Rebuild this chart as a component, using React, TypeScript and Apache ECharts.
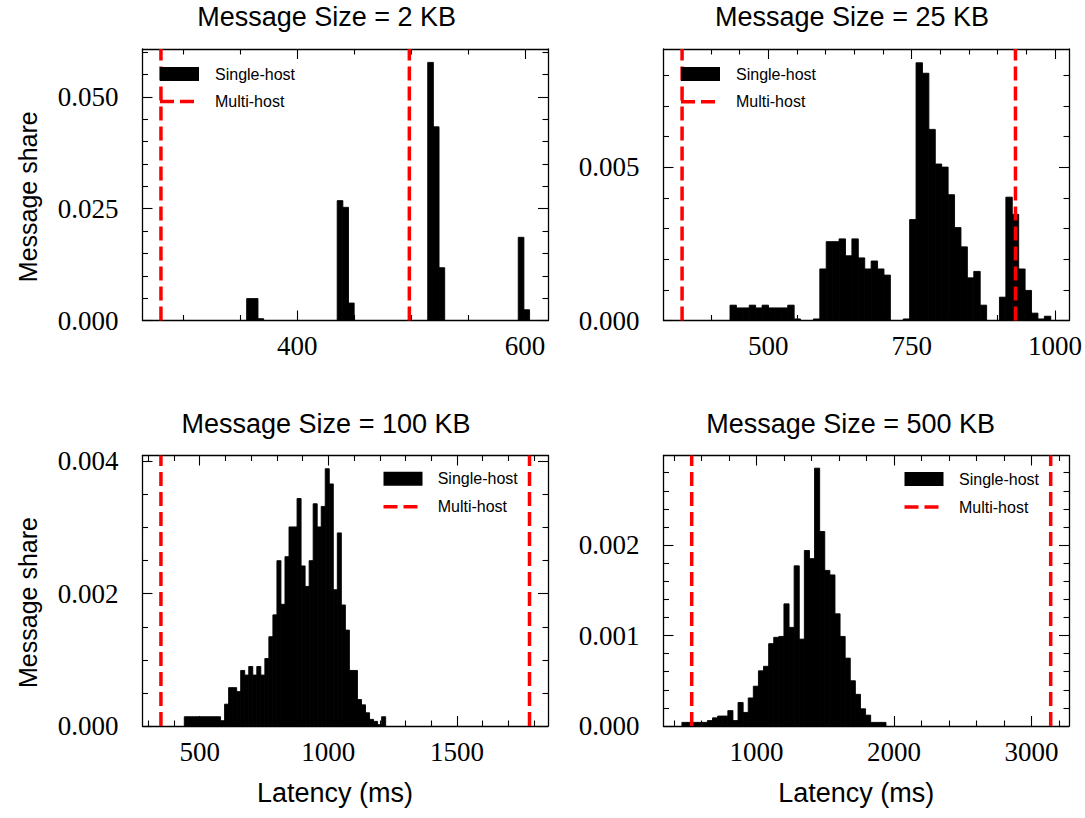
import React, { useEffect, useRef } from "react";
import * as echarts from "echarts";

// ---------- texts ----------
const titles = [
  "Message Size = 2 KB",
  "Message Size = 25 KB",
  "Message Size = 100 KB",
  "Message Size = 500 KB",
];
const seriesNames = ["Single-host", "Multi-host"];
const xAxisTitle = "Latency (ms)";
const yAxisTitle = "Message share";

// ---------- 2 KB ----------
const binStart2KB = 355.5;
const binWidth2KB = 4.97;
const share2KB = [
  0.0049, 0.0049, 0.0004, 0, 0, 0, 0, 0, 0, 0,
  0, 0, 0, 0, 0, 0, 0.0268, 0.0253, 0.0039, 0,
  0, 0, 0, 0, 0, 0, 0, 0, 0, 0,
  0, 0, 0.0577, 0.0433, 0.0118, 0, 0, 0, 0, 0,
  0, 0, 0, 0, 0, 0, 0, 0, 0.0186, 0.0024,
];
const multiHost2KB = [280.2, 498.4];
const xMajor2KB = [400, 600];
const xMinor2KB = [300, 350, 450, 500, 550];
const yMajor2KB = [0, 0.025, 0.05];
const yMinor2KB = [0.005, 0.01, 0.015, 0.02, 0.03, 0.035, 0.04, 0.045, 0.055, 0.06];

// ---------- 25 KB ----------
const binStart25KB = 433.1;
const binWidth25KB = 11.19;
const share25KB = [
  0.0005, 0.00041, 0.00041, 0.0005, 0.00041, 0.0005, 0.00041, 0.00041, 0.00041, 0.0005,
  0.00005, 0, 0, 0.00005, 0.00168, 0.00257, 0.00257, 0.00266, 0.00211, 0.00266,
  0.00204, 0.00168, 0.00194, 0.00168, 0.00148, 0, 0, 0.00005, 0.00329, 0.0084,
  0.00806, 0.00623, 0.0051, 0.005, 0.0041, 0.00303, 0.0024, 0.00139, 0.0016, 0.0005,
  0, 0, 0.00076, 0.00402, 0.00346, 0.00168, 0.00098, 0.00024, 0.00005, 0.00014,
];
const multiHost25KB = [349.5, 931];
const xMajor25KB = [500, 750, 1000];
const xMinor25KB = [350, 400, 450, 550, 600, 650, 700, 800, 850, 900, 950];
const yMajor25KB = [0, 0.005];
const yMinor25KB = [0.001, 0.002, 0.003, 0.004, 0.006, 0.007, 0.008];

// ---------- 100 KB ----------
const binStart100KB = 440.4;
const binWidth100KB = 15.65;
const share100KB = [
  0.00014, 0.00014, 0.00014, 0.00014, 0.00014, 0.00014, 0.00014, 0.00014, 0.00014, 0.00008,
  0.00033, 0.00058, 0.00058, 0.00052, 0.00084, 0.00077, 0.0009, 0.00077, 0.0009, 0.00077,
  0.00102, 0.00135, 0.00168, 0.0025, 0.00184, 0.00256, 0.00301, 0.00301, 0.00344, 0.00242,
  0.00211, 0.0025, 0.00336, 0.00301, 0.00332, 0.00389, 0.00366, 0.00206, 0.00292, 0.00183,
  0.00145, 0.00084, 0.00084, 0.0004, 0.00032, 0.0002, 0.0001, 0.00007, 0.00002, 0.00014,
];
const multiHost100KB = [349.5, 1782];
const xMajor100KB = [500, 1000, 1500];
const xMinor100KB = [300, 400, 600, 700, 800, 900, 1100, 1200, 1300, 1400, 1600, 1700, 1800];
const yMajor100KB = [0, 0.002, 0.004];
const yMinor100KB = [0.0005, 0.001, 0.0015, 0.0025, 0.003, 0.0035];

// ---------- 500 KB ----------
const binStart500KB = 457.6;
const binWidth500KB = 37.1;
const share500KB = [
  0.00004, 0.00004, 0.00004, 0.00004, 0.00004, 0.00006, 0.00009, 0.00011, 0.00011, 0.00017,
  0.00006, 0.00026, 0.00015, 0.00031, 0.00044, 0.00061, 0.00066, 0.00091, 0.00098, 0.00099,
  0.00135, 0.00109, 0.00177, 0.00096, 0.00194, 0.00185, 0.00285, 0.00215, 0.00172, 0.00167,
  0.00124, 0.00099, 0.00075, 0.0005, 0.00035, 0.00019, 0.00012, 0.00004, 0.00004, 0.00004,
];
const multiHost500KB = [528.7, 3139.6];
const xMajor500KB = [1000, 2000, 3000];
const xMinor500KB = [400, 600, 800, 1200, 1400, 1600, 1800, 2200, 2400, 2600, 2800, 3200];
const yMajor500KB = [0, 0.001, 0.002];
const yMinor500KB = [
  0.0002, 0.0004, 0.0006, 0.0008, 0.0012, 0.0014, 0.0016, 0.0018,
  0.0022, 0.0024, 0.0026, 0.0028,
];

// ---------- assembly ----------
const panels = [
  { start: binStart2KB, width: binWidth2KB, share: share2KB, multi: multiHost2KB, xMajor: xMajor2KB, xMinor: xMinor2KB, yMajor: yMajor2KB, yMinor: yMinor2KB },
  { start: binStart25KB, width: binWidth25KB, share: share25KB, multi: multiHost25KB, xMajor: xMajor25KB, xMinor: xMinor25KB, yMajor: yMajor25KB, yMinor: yMinor25KB },
  { start: binStart100KB, width: binWidth100KB, share: share100KB, multi: multiHost100KB, xMajor: xMajor100KB, xMinor: xMinor100KB, yMajor: yMajor100KB, yMinor: yMinor100KB },
  { start: binStart500KB, width: binWidth500KB, share: share500KB, multi: multiHost500KB, xMajor: xMajor500KB, xMinor: xMinor500KB, yMajor: yMajor500KB, yMinor: yMinor500KB },
];

const layouts = [
  { left: 142.5, top: 49, width: 405.5, height: 271.5, xMin: 264, xMax: 620.2, yMax: 0.0607, titleX: 326.6, titleTop: 3, legX: 160, legTextX: 215, legY1: 74, legY2: 101.5 },
  { left: 663.5, top: 49, width: 405.5, height: 271.5, xMin: 317.1, xMax: 1024.4, yMax: 0.00885, titleX: 852, titleTop: 3, legX: 681, legTextX: 736, legY1: 74, legY2: 101.7 },
  { left: 142.5, top: 455.5, width: 405.5, height: 270.5, xMin: 277.9, xMax: 1853.9, yMax: 0.00409, titleX: 326, titleTop: 410, legX: 383.5, legTextX: 437.7, legY1: 478.7, legY2: 506.7 },
  { left: 663.5, top: 455.5, width: 405.5, height: 270.5, xMin: 323.6, xMax: 3272.7, yMax: 0.00299, titleX: 850.6, titleTop: 410, legX: 904.5, legTextX: 959, legY1: 479, legY2: 507 },
];

const FONT_SERIF = '"Liberation Serif", "Times New Roman", serif';
const FONT_SANS = '"Liberation Sans", Arial, sans-serif';
const RED = "#ff0000";
const DASH = [14, 6];

function buildOption() {
  const grid: any[] = [];
  const xAxis: any[] = [];
  const yAxis: any[] = [];
  const series: any[] = [];
  const title: any[] = [];
  const graphic: any[] = [];

  const frameLine = { color: "#000", width: 1.3 };
  const tickLine = { color: "#000", width: 1.1 };
  const MAJOR = 10;
  const MINOR = 5.5;

  panels.forEach((p, gi) => {
    const L = layouts[gi];
    grid.push({ left: L.left, top: L.top, width: L.width, height: L.height, containLabel: false, outerBoundsMode: "none" });

    const xb = { type: "value", gridIndex: gi, min: L.xMin, max: L.xMax, splitLine: { show: false }, axisPointer: { show: false } };
    xAxis.push(
      {
        ...xb, position: "bottom",
        axisLine: { show: true, onZero: false, lineStyle: frameLine },
        axisTick: { show: true, inside: true, length: MAJOR, customValues: p.xMajor, lineStyle: tickLine },
        axisLabel: { show: true, customValues: p.xMajor, margin: 12, fontFamily: FONT_SERIF, fontSize: 27, color: "#000", formatter: (v: number) => String(Math.round(v)) },
      },
      {
        ...xb, position: "bottom",
        axisLine: { show: false, onZero: false },
        axisTick: { show: true, inside: true, length: MINOR, customValues: p.xMinor, lineStyle: tickLine },
        axisLabel: { show: false },
      },
      {
        ...xb, position: "top",
        axisLine: { show: true, onZero: false, lineStyle: frameLine },
        axisTick: { show: true, inside: true, length: MAJOR, customValues: p.xMajor, lineStyle: tickLine },
        axisLabel: { show: false },
      },
      {
        ...xb, position: "top",
        axisLine: { show: false, onZero: false },
        axisTick: { show: true, inside: true, length: MINOR, customValues: p.xMinor, lineStyle: tickLine },
        axisLabel: { show: false },
      }
    );

    const yb = { type: "value", gridIndex: gi, min: 0, max: L.yMax, splitLine: { show: false }, axisPointer: { show: false } };
    yAxis.push(
      {
        ...yb, position: "left",
        axisLine: { show: true, onZero: false, lineStyle: frameLine },
        axisTick: { show: true, inside: true, length: MAJOR, customValues: p.yMajor, lineStyle: tickLine },
        axisLabel: { show: true, customValues: p.yMajor, margin: 24, fontFamily: FONT_SERIF, fontSize: 27, color: "#000", formatter: (v: number) => v.toFixed(3) },
      },
      {
        ...yb, position: "left",
        axisLine: { show: false, onZero: false },
        axisTick: { show: true, inside: true, length: MINOR, customValues: p.yMinor, lineStyle: tickLine },
        axisLabel: { show: false },
      },
      {
        ...yb, position: "right",
        axisLine: { show: true, onZero: false, lineStyle: frameLine },
        axisTick: { show: true, inside: true, length: MAJOR, customValues: p.yMajor, lineStyle: tickLine },
        axisLabel: { show: false },
      },
      {
        ...yb, position: "right",
        axisLine: { show: false, onZero: false },
        axisTick: { show: true, inside: true, length: MINOR, customValues: p.yMinor, lineStyle: tickLine },
        axisLabel: { show: false },
      }
    );

    // Histogram (Single-host)
    series.push({
      type: "custom",
      name: seriesNames[0],
      coordinateSystem: "cartesian2d",
      xAxisIndex: gi * 4,
      yAxisIndex: gi * 4,
      silent: true,
      z: 2,
      dimensions: ["x0", "x1", "share"],
      encode: { x: [0, 1], y: 2 },
      data: p.share.map((v, i) => [p.start + i * p.width, p.start + (i + 1) * p.width, v]),
      renderItem: (params: any, api: any) => {
        const h = api.value(2);
        if (!h) return { type: "group", children: [] };
        const a = api.coord([api.value(0), h]);
        const b = api.coord([api.value(1), 0]);
        return {
          type: "rect",
          shape: { x: a[0], y: a[1], width: b[0] - a[0], height: b[1] - a[1] },
          style: { fill: "#000", stroke: "#000", lineWidth: 0.9 },
        };
      },
    });

    // Multi-host vertical dashed lines
    const yTop = L.yMax;
    series.push({
      type: "custom",
      name: seriesNames[1],
      coordinateSystem: "cartesian2d",
      xAxisIndex: gi * 4,
      yAxisIndex: gi * 4,
      silent: true,
      z: 3,
      dimensions: ["latency", "y"],
      encode: { x: 0, y: 1 },
      data: p.multi.map((x) => [x, 0]),
      renderItem: (params: any, api: any) => {
        const x = api.value(0);
        const a = api.coord([x, 0]);
        const b = api.coord([x, yTop]);
        return {
          type: "line",
          shape: { x1: a[0], y1: a[1], x2: b[0], y2: b[1] },
          style: { stroke: RED, lineWidth: 3.5, lineDash: DASH, fill: null },
        };
      },
    });

    title.push({
      text: titles[gi],
      left: L.titleX,
      top: L.titleTop,
      textAlign: "center",
      padding: 0,
      textStyle: { fontFamily: FONT_SANS, fontSize: 27, fontWeight: "normal", color: "#000" },
    });

    // Legend
    graphic.push(
      { type: "rect", z: 100, shape: { x: L.legX, y: L.legY1 - 7, width: 39, height: 14 }, style: { fill: "#000" } },
      { type: "text", z: 100, x: L.legTextX, y: L.legY1, style: { text: seriesNames[0], fontFamily: FONT_SANS, fontSize: 16, fill: "#000", align: "left", verticalAlign: "middle" } },
      { type: "line", z: 100, shape: { x1: L.legX, y1: L.legY2, x2: L.legX + 39, y2: L.legY2 }, style: { stroke: RED, lineWidth: 3.5, lineDash: DASH } },
      { type: "text", z: 100, x: L.legTextX, y: L.legY2, style: { text: seriesNames[1], fontFamily: FONT_SANS, fontSize: 16, fill: "#000", align: "left", verticalAlign: "middle" } }
    );
  });

  // Axis names
  graphic.push(
    { type: "text", x: 27.5, y: 196.7, rotation: Math.PI / 2, style: { text: yAxisTitle, fontFamily: FONT_SANS, fontSize: 25, fill: "#000", align: "center", verticalAlign: "middle" } },
    { type: "text", x: 27.5, y: 602.5, rotation: Math.PI / 2, style: { text: yAxisTitle, fontFamily: FONT_SANS, fontSize: 25, fill: "#000", align: "center", verticalAlign: "middle" } },
    { type: "text", x: 335, y: 793, style: { text: xAxisTitle, fontFamily: FONT_SANS, fontSize: 27, fill: "#000", align: "center", verticalAlign: "middle" } },
    { type: "text", x: 856.3, y: 793, style: { text: xAxisTitle, fontFamily: FONT_SANS, fontSize: 27, fill: "#000", align: "center", verticalAlign: "middle" } }
  );

  return {
    animation: false,
    backgroundColor: "#fff",
    title,
    grid,
    xAxis,
    yAxis,
    series,
    graphic,
  };
}

export default function App() {
  const ref = useRef<HTMLDivElement>(null);
  useEffect(() => {
    if (!ref.current) return;
    const chart = echarts.init(ref.current, null, { renderer: "svg" });
    chart.setOption(buildOption() as any);
    return () => chart.dispose();
  }, []);
  return (
    <div
      ref={ref}
      style={{ position: "absolute", left: 0, top: 0, width: 1085, height: 818, background: "#fff" }}
    />
  );
}
